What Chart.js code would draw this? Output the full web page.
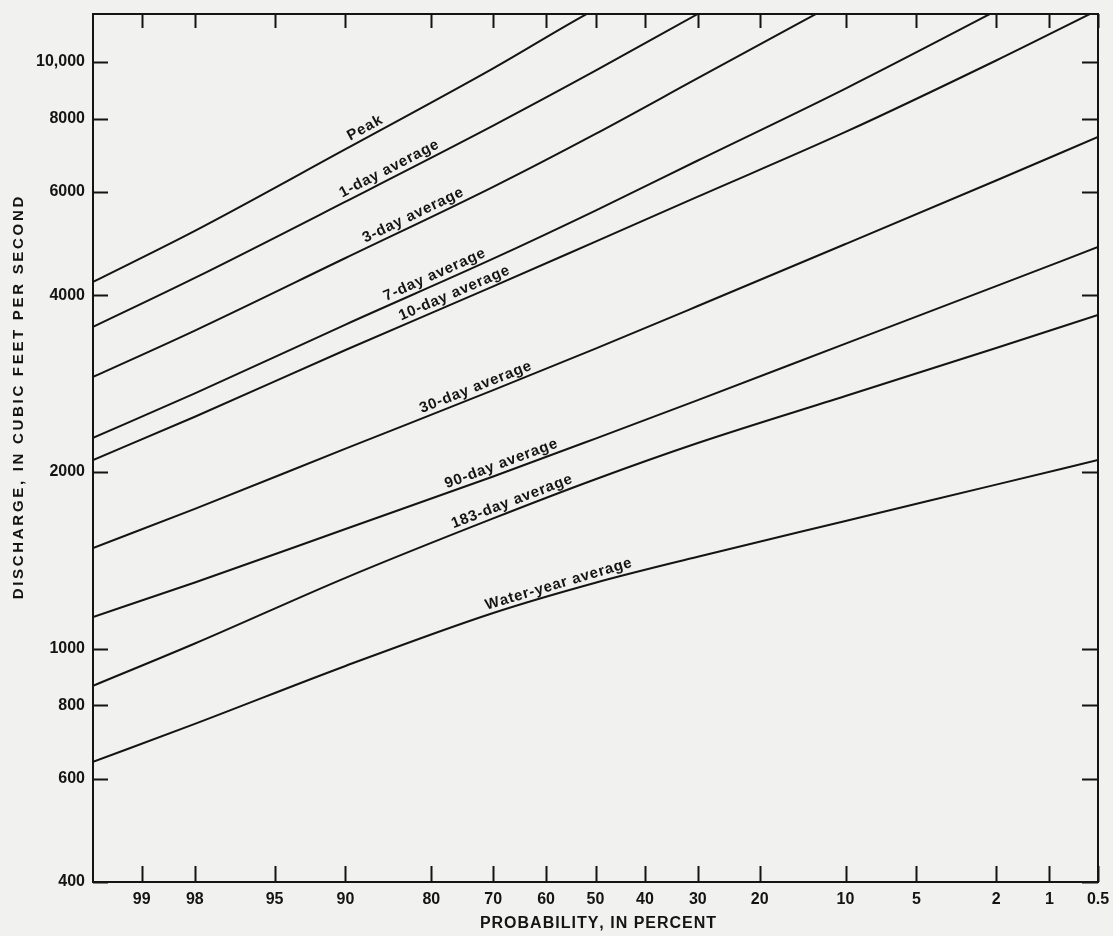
<!DOCTYPE html>
<html>
<head>
<meta charset="utf-8">
<title>Discharge frequency curves</title>
<script src="https://cdn.jsdelivr.net/npm/chart.js@4.4.0/dist/chart.umd.min.js"></script>
<style>
  html, body { margin: 0; padding: 0; background: #f1f1ef; }
  #wrap { width: 1113px; height: 936px; }
</style>
</head>
<body>
<div id="wrap"><canvas id="chart" width="1113" height="936"></canvas></div>
<script>
// Probability (percent chance of being exceeded) where the curves were read
const probabilities = [99.5, 98, 90, 70, 50, 30, 10, 2, 0.5];

// Discharge, cubic feet per second (null = beyond the top of the chart)
const peak      = [4216, 5152, 7100, 9750, 12300, 14984, null, null, null];
const oneDay    = [3534, 4284, 5779, 7788, 9661, 12070, 16588, null, null];
const threeDay  = [2904, 3484, 4632, 6125, 7540, 9384, 12856, null, null];
const sevenDay  = [2286, 2722, 3567, 4620, 5580, 6792, 9008, 12224, 15100];
const tenDay    = [2096, 2484, 3228, 4143, 4940, 5893, 7597, 10057, 12261];
const thirtyDay = [1484, 1730, 2192, 2757, 3246, 3836, 4893, 6280, 7448];
const ninetyDay = [1132, 1296, 1599, 1965, 2280, 2652, 3310, 4147, 4837];
const day183    = [864, 1020, 1320, 1667, 1944, 2241, 2695, 3254, 3704];
const waterYear = [641, 744, 934, 1150, 1295, 1434, 1650, 1903, 2096];

const seriesNames = ['Peak', '1-day average', '3-day average', '7-day average', '10-day average',
                     '30-day average', '90-day average', '183-day average', 'Water-year average'];
const seriesValues = [peak, oneDay, threeDay, sevenDay, tenDay, thirtyDay, ninetyDay, day183, waterYear];
// probability at which each curve label is centred
const labelProbs = [87.7, 85, 82, 79, 76, 72.5, 68, 66, 57];

const xTickProbs = [99, 98, 95, 90, 80, 70, 60, 50, 40, 30, 20, 10, 5, 2, 1, 0.5];
const yTickValues = [400, 600, 800, 1000, 2000, 4000, 6000, 8000, 10000];

const INK = '#141414';
const PAPER = '#f1f1ef';

// inverse normal CDF (Acklam) - used for the probability paper scale
function probit(p) {
    const a = [-3.969683028665376e+01, 2.209460984245205e+02, -2.759285104469687e+02,
               1.383577518672690e+02, -3.066479806614716e+01, 2.506628277459239e+00];
    const b = [-5.447609879822406e+01, 1.615858368580409e+02, -1.556989798598866e+02,
               6.680131188771972e+01, -1.328068155288572e+01];
    const c = [-7.784894002430293e-03, -3.223964580411365e-01, -2.400758277161838e+00,
               -2.549732539343734e+00, 4.374664141464968e+00, 2.938163982698783e+00];
    const d = [7.784695709041462e-03, 3.224671290700398e-01, 2.445134137142996e+00,
               3.754408661907416e+00];
    const pl = 0.02425;
    let q, r;
    if (p < pl) {
        q = Math.sqrt(-2 * Math.log(p));
        return (((((c[0]*q + c[1])*q + c[2])*q + c[3])*q + c[4])*q + c[5]) /
               ((((d[0]*q + d[1])*q + d[2])*q + d[3])*q + 1);
    }
    if (p <= 1 - pl) {
        q = p - 0.5; r = q * q;
        return (((((a[0]*r + a[1])*r + a[2])*r + a[3])*r + a[4])*r + a[5]) * q /
               (((((b[0]*r + b[1])*r + b[2])*r + b[3])*r + b[4])*r + 1);
    }
    q = Math.sqrt(-2 * Math.log(1 - p));
    return -(((((c[0]*q + c[1])*q + c[2])*q + c[3])*q + c[4])*q + c[5]) /
            ((((d[0]*q + d[1])*q + d[2])*q + d[3])*q + 1);
}
// exceedance percent -> axis position (high probability on the left)
const toAxis = pct => -probit(pct / 100);

// draw text with extra letter spacing, centred on x
function spacedText(ctx, text, x, y, spacing) {
    const chars = [...text];
    const widths = chars.map(ch => ctx.measureText(ch).width);
    const total = widths.reduce((s, w) => s + w, 0) + spacing * (chars.length - 1);
    let cx = x - total / 2;
    ctx.textAlign = 'left';
    chars.forEach((ch, i) => {
        ctx.fillText(ch, cx, y);
        cx += widths[i] + spacing;
    });
}

const paperPlugin = {
    id: 'paper',
    beforeDraw(chart) {
        const ctx = chart.ctx;
        ctx.save();
        ctx.fillStyle = PAPER;
        ctx.fillRect(0, 0, chart.width, chart.height);
        ctx.restore();
    }
};

const curveLabels = {
    id: 'curveLabels',
    afterDatasetsDraw(chart) {
        const ctx = chart.ctx;
        const xs = chart.scales.x;
        ctx.save();
        ctx.fillStyle = INK;
        ctx.font = 'bold 15px "Liberation Sans", Arial, sans-serif';
        ctx.textBaseline = 'alphabetic';
        seriesNames.forEach((name, i) => {
            const pts = chart.getDatasetMeta(i).data.filter(pt => !pt.skip);
            const px = xs.getPixelForValue(toAxis(labelProbs[i]));
            for (let k = 0; k < pts.length - 1; k++) {
                const p0 = pts[k], p1 = pts[k + 1];
                if (px >= p0.x && px <= p1.x) {
                    const t = (px - p0.x) / (p1.x - p0.x);
                    const py = p0.y + t * (p1.y - p0.y);
                    const ang = Math.atan2(p1.y - p0.y, p1.x - p0.x);
                    ctx.save();
                    ctx.translate(px, py);
                    ctx.rotate(ang);
                    spacedText(ctx, name, 0, -5, 0.8);
                    ctx.restore();
                    break;
                }
            }
        });
        ctx.restore();
    }
};

const frameAndTicks = {
    id: 'frameAndTicks',
    afterDraw(chart) {
        const {ctx, chartArea: ca, scales} = chart;
        ctx.save();
        ctx.strokeStyle = INK;
        ctx.lineWidth = 2;
        ctx.strokeRect(ca.left, ca.top, ca.right - ca.left, ca.bottom - ca.top);
        ctx.beginPath();
        xTickProbs.forEach(p => {
            const x = Math.round(scales.x.getPixelForValue(toAxis(p))) + 0.5;
            ctx.moveTo(x, ca.bottom); ctx.lineTo(x, ca.bottom - 16);
            ctx.moveTo(x, ca.top); ctx.lineTo(x, ca.top + 14);
        });
        yTickValues.forEach(v => {
            const y = Math.round(scales.y.getPixelForValue(v)) + 0.5;
            ctx.moveTo(ca.left, y); ctx.lineTo(ca.left + 15, y);
            ctx.moveTo(ca.right, y); ctx.lineTo(ca.right - 16, y);
        });
        ctx.stroke();

        // axis titles
        ctx.fillStyle = INK;
        ctx.textBaseline = 'middle';
        ctx.font = 'bold 16px "Liberation Sans", Arial, sans-serif';
        spacedText(ctx, 'PROBABILITY, IN PERCENT', 598, 924, 1);
        ctx.font = 'bold 15px "Liberation Sans", Arial, sans-serif';
        ctx.translate(19, 398);
        ctx.rotate(-Math.PI / 2);
        spacedText(ctx, 'DISCHARGE, IN CUBIC FEET PER SECOND', 0, 0, 2.7);
        ctx.restore();
    }
};

const datasets = seriesNames.map((name, i) => ({
    label: name,
    data: probabilities.map((p, k) => ({ x: toAxis(p), y: seriesValues[i][k] })),
    borderColor: INK,
    borderWidth: 2,
    pointRadius: 0,
    fill: false,
    cubicInterpolationMode: 'monotone'
}));

const tickFont = { family: '"Liberation Sans", Arial, sans-serif', size: 16, weight: 'bold' };

new Chart(document.getElementById('chart'), {
    type: 'line',
    data: { datasets },
    options: {
        responsive: false,
        animation: false,
        layout: { padding: { top: 14, right: 15, left: 0, bottom: 0 } },
        plugins: {
            legend: { display: false },
            tooltip: { enabled: false }
        },
        scales: {
            x: {
                type: 'linear',
                min: toAxis(99.5),
                max: toAxis(0.5),
                grid: { display: false, drawTicks: false },
                border: { display: false },
                afterBuildTicks: s => { s.ticks = xTickProbs.map(p => ({ value: toAxis(p) })); },
                afterFit: s => { s.height = 54; s.paddingLeft = 0; s.paddingRight = 0; },
                ticks: {
                    autoSkip: false,
                    maxRotation: 0,
                    padding: 8,
                    color: INK,
                    font: tickFont,
                    callback: (v, i) => String(xTickProbs[i])
                }
            },
            y: {
                type: 'logarithmic',
                min: 400,
                max: 12070,
                grid: { display: false, drawTicks: false },
                border: { display: false },
                afterBuildTicks: s => { s.ticks = yTickValues.map(v => ({ value: v })); },
                afterFit: s => { s.width = 93; s.paddingTop = 0; s.paddingBottom = 0; },
                ticks: {
                    padding: 8,
                    color: INK,
                    font: tickFont,
                    callback: v => v === 10000 ? '10,000' : String(v)
                }
            }
        }
    },
    plugins: [paperPlugin, curveLabels, frameAndTicks]
});
</script>
</body>
</html>
